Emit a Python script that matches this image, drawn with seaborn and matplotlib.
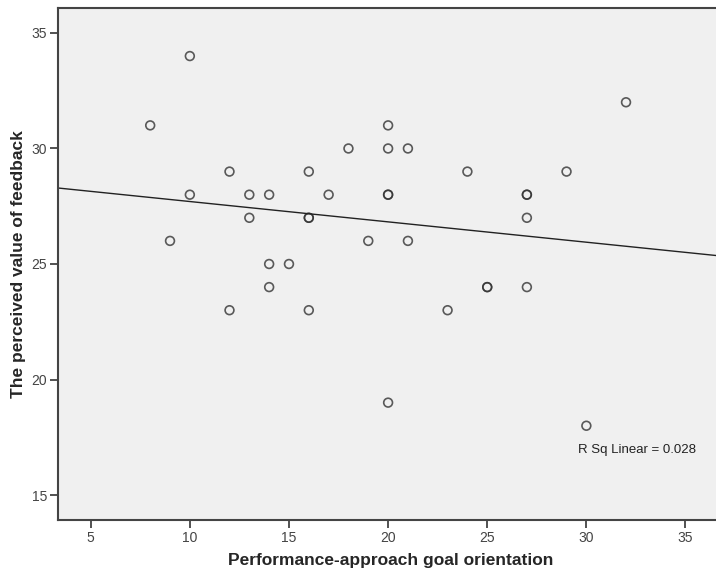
import matplotlib
matplotlib.use("Agg")
import matplotlib.pyplot as plt
import seaborn as sns
import pandas as pd

goal_orientation = [10, 8, 32, 12, 16, 18, 20, 20, 21, 24, 29, 10, 13, 14, 17, 20, 20,
                    27, 27, 9, 13, 16, 16, 19, 21, 27, 14, 15, 14, 25, 25, 27, 12, 16,
                    23, 20, 30]
feedback_value = [34, 31, 32, 29, 29, 30, 31, 30, 30, 29, 29, 28, 28, 28, 28, 28, 28,
                  28, 28, 26, 27, 27, 27, 26, 26, 27, 25, 25, 24, 24, 24, 24, 23, 23,
                  23, 19, 18]
x_ticks = [5, 10, 15, 20, 25, 30, 35]
y_ticks = [15, 20, 25, 30, 35]
r2_label = "R Sq Linear = 0.028"

df = pd.DataFrame({"x": goal_orientation, "y": feedback_value})

sns.set_style("white")
plt.rcParams["font.family"] = ["Liberation Sans", "DejaVu Sans"]

fig = plt.figure(figsize=(7.16, 5.81), dpi=100)
ax = fig.add_axes([58 / 716, 1 - 520 / 581, 1 - 58 / 716 + 0.01, (520 - 8) / 581])
ax.set_facecolor("#F0F0F0")
ax.set_xlim(3.35, 36.9)
ax.set_ylim(13.92, 36.08)

sns.regplot(data=df, x="x", y="y", ax=ax, ci=None, truncate=False,
            scatter_kws=dict(s=40, facecolors="none", edgecolors="#333333", linewidths=1.2),
            line_kws=dict(color="#222222", linewidth=1.0))

ax.set_xlim(3.35, 36.9)
ax.set_ylim(13.92, 36.08)
ax.set_xticks(x_ticks)
ax.set_yticks(y_ticks)
ax.tick_params(axis="both", direction="out", length=6, width=1.2, color="#333333",
               labelsize=10, labelcolor="#444444", pad=2)
ax.tick_params(axis="x", bottom=True)
ax.tick_params(axis="y", left=True)

for side in ["left", "bottom", "top"]:
    ax.spines[side].set_visible(True)
    ax.spines[side].set_color("#444444")
    ax.spines[side].set_linewidth(1.5)
ax.spines["right"].set_visible(False)

ax.set_xlabel("Performance-approach goal orientation", fontsize=12.5, fontweight="bold",
              labelpad=6)
ax.set_ylabel("The perceived value of feedback", fontsize=12.5, fontweight="bold",
              labelpad=4)

ax.text(29.6, 16.95, r2_label, fontsize=9.5, color="#222222", va="center", ha="left")

fig.savefig("out.png", dpi=100)
